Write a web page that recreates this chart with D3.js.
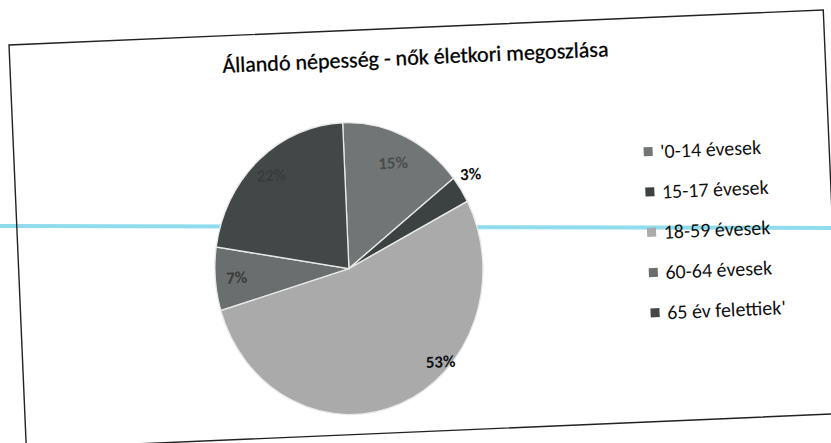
<!DOCTYPE html>
<html>
<head>
<meta charset="utf-8">
<script src="https://cdn.jsdelivr.net/npm/d3@7"></script>
<style>
  html, body { margin: 0; padding: 0; background: #fff; }
  svg { display: block; }
  text { font-family: Carlito, Calibri, Lato, "Open Sans", sans-serif; }
</style>
</head>
<body>
<svg id="chart" width="831" height="443"></svg>
<script>
(function () {
    "use strict";
    var TITLE = "Állandó népesség - nők életkori megoszlása",
        categories = ["'0-14 évesek", "15-17 évesek", "18-59 évesek", "60-64 évesek", "65 év felettiek'"],
        values = [15, 3, 53, 7, 22],
        colors = ["#727575", "#3c4141", "#aaaaaa", "#6b6e6e", "#434747"],
        labelColors = ["#4a4d4d", "#111", "#111", "#3a3c3c", "#3a3c3c"],
        // where along the slice (t) and how far out (r) each label sits
        labelPlace = [{t: 0.5, r: 0.8}, {t: 0.26, r: 1.12}, {t: 0.37, r: 0.93}, {t: 0.5, r: 0.84}, {t: 0.5, r: 0.86}],
        W = 815, H = 404,
        rx = 134, ry = 146,
        cx = 330, cy = 238,
        svg = d3.select("#chart"),
        g, pie, arc, arcs, pieG, legend;

    // scanner streak
    svg.append("line")
        .attr("x1", 0).attr("x2", 831)
        .attr("y1", 226).attr("y2", 228)
        .attr("stroke", "#6cd0e6").attr("stroke-width", 4).attr("opacity", 0.75);

    // the scan is tilted a little
    g = svg.append("g").attr("transform", "translate(9,45) rotate(-2.46)");

    g.append("rect")
        .attr("width", W).attr("height", H)
        .attr("fill", "none").attr("stroke", "#222").attr("stroke-width", 1.4);

    g.append("text")
        .attr("x", W / 2 - 2).attr("y", 37)
        .attr("text-anchor", "middle")
        .attr("font-size", 22)
        .attr("fill", "#000")
        .attr("stroke", "#000").attr("stroke-width", 0.3)
        .text(TITLE);

    pie = d3.pie().sort(null).value(function (d) { return d; });
    arcs = pie(values);
    arc = d3.arc().innerRadius(0).outerRadius(rx);

    pieG = g.append("g").attr("transform", "translate(" + cx + "," + cy + ")");
    pieG.append("g").attr("transform", "scale(1," + (ry / rx) + ")")
        .selectAll("path").data(arcs).enter().append("path")
        .attr("d", arc)
        .attr("fill", function (d, i) { return colors[i]; })
        .attr("stroke", "#e8e8e8").attr("stroke-width", 1.3);

    pieG.selectAll("text.lbl").data(arcs).enter().append("text")
        .attr("class", "lbl")
        .attr("x", function (d, i) {
            var a = d.startAngle + (d.endAngle - d.startAngle) * labelPlace[i].t;
            return Math.sin(a) * rx * labelPlace[i].r;
        })
        .attr("y", function (d, i) {
            var a = d.startAngle + (d.endAngle - d.startAngle) * labelPlace[i].t;
            return -Math.cos(a) * ry * labelPlace[i].r;
        })
        .attr("dy", "0.35em")
        .attr("text-anchor", "middle")
        .attr("font-size", 17)
        .attr("font-weight", "bold")
        .attr("fill", function (d, i) { return labelColors[i]; })
        .text(function (d) { return d.data + "%"; });

    legend = g.append("g").attr("transform", "translate(634,134)");
    legend.selectAll("g").data(categories).enter().append("g")
        .attr("transform", function (d, i) { return "translate(0," + (i * 40.3) + ")"; })
        .each(function (d, i) {
            var item = d3.select(this);
            item.append("rect")
                .attr("x", -4.5).attr("y", -4.5).attr("width", 9).attr("height", 9)
                .attr("fill", colors[i]);
            item.append("text")
                .attr("x", 12).attr("dy", "0.35em")
                .attr("font-size", 20)
                .attr("fill", "#111")
                .text(d);
        });
}());
</script>
</body>
</html>
